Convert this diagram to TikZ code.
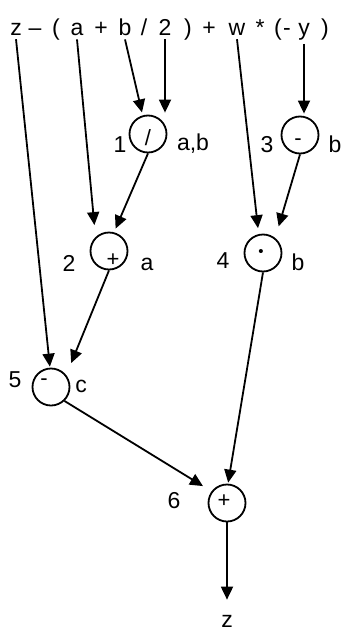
\documentclass[tikz,border=0pt]{standalone}
\usepackage{fontspec}
\setmainfont{Liberation Sans}
\usetikzlibrary{arrows.meta}
\tikzset{
  opnode/.style={circle,draw=black,line width=1.8pt,minimum size=37pt,inner sep=0pt},
  symnode/.style={inner sep=0pt,font=\fontsize{22}{26}\selectfont},
  toknode/.style={anchor=base,inner sep=4pt,font=\fontsize{23}{27}\selectfont},
  numnode/.style={anchor=base,inner sep=1pt,font=\fontsize{23}{27}\selectfont},
  depedge/.style={-{Triangle[length=13pt,width=12pt]},line width=1.8pt,black},
}
\begin{document}
\begin{tikzpicture}[x=1pt,y=-1pt]
  \useasboundingbox (0,0) rectangle (342,632);
  % expression
  \node[toknode] (tz) at (16,35) {z};
  \node[toknode] (tdash) at (35,35) {\textendash};
  \node[toknode] (tlp) at (56,35) {(};
  \node[toknode] (ta) at (77,35) {a};
  \node[toknode] (tplus) at (101,35) {+};
  \node[toknode] (tb) at (125,35) {b};
  \node[toknode] (tdiv) at (144,35) {/};
  \node[toknode] (ttwo) at (165,35) {2};
  \node[toknode] (trp) at (188,35) {)};
  \node[toknode] (tplusb) at (209,35) {+};
  \node[toknode] (tw) at (237,35) {w};
  \node[toknode] (tmul) at (260,35) {*};
  \node[toknode] (tlpb) at (278,35) {(};
  \node[toknode] (tneg) at (287,35) {-};
  \node[toknode] (ty) at (304,35) {y};
  \node[toknode] (trpb) at (325,35) {)};
  % operations
  \node[opnode] (n1) at (148,134) {};
  \node[opnode] (n2) at (109,251) {};
  \node[opnode] (n3) at (300,135) {};
  \node[opnode] (n4) at (263,253) {};
  \node[opnode] (n5) at (51,387) {};
  \node[opnode] (n6) at (227,503) {};
  \node[symnode] (o1) at (148,138) {/};
  \node[symnode] (o2) at (113,260) {+};
  \node[symnode] (o3) at (298,142) {-};
  \node[symnode,font=\fontsize{15}{18}\selectfont] (o4) at (261,253) {•};
  \node[symnode] (o5) at (44,382) {-};
  \node[symnode] (o6) at (224,501) {+};
  % numbers and operands
  \node[numnode] (k1) at (120,152) {1};
  \node[numnode] (v1) at (193,150) {a,b};
  \node[numnode] (k3) at (267,152) {3};
  \node[numnode] (v3) at (335,152) {b};
  \node[numnode] (k2) at (69,271) {2};
  \node[numnode] (v2) at (147,270) {a};
  \node[numnode] (k4) at (223,268) {4};
  \node[numnode] (v4) at (298,270) {b};
  \node[numnode] (k5) at (15,387) {5};
  \node[numnode] (v5) at (81,392) {c};
  \node[numnode] (k6) at (174,508) {6};
  \node[numnode] (zout) at (227,627) {z};
  % dependencies
  \draw[depedge,shorten >=3pt] (tb.south) -- (n1.106);
  \draw[depedge,shorten >=2pt] (ttwo.south) -- (ttwo.south |- n1.north);
  \draw[depedge,shorten >=2pt] (ty.south) -- (ty.south |- n3.north);
  \draw[depedge,shorten >=12pt] (ta.south) -- (n2.134);
  \draw[depedge,shorten >=4pt] (n1.south) -- (n2.75);
  \draw[depedge,shorten >=6pt] (tw.south) -- (n4.103);
  \draw[depedge,shorten >=12pt] (n3.south) -- (n4.51);
  \draw[depedge,shorten >=1pt] (tz.south) -- (n5.93);
  \draw[depedge,shorten >=13pt] (n2.south) -- (n5.38);
  \draw[depedge,shorten >=10pt] (n5.-46) -- (n6.143);
  \draw[depedge,shorten >=1pt] (n4.south) -- (n6.87);
  \draw[depedge,shorten >=14pt] (n6.south) -- (zout.north);
\end{tikzpicture}
\end{document}
